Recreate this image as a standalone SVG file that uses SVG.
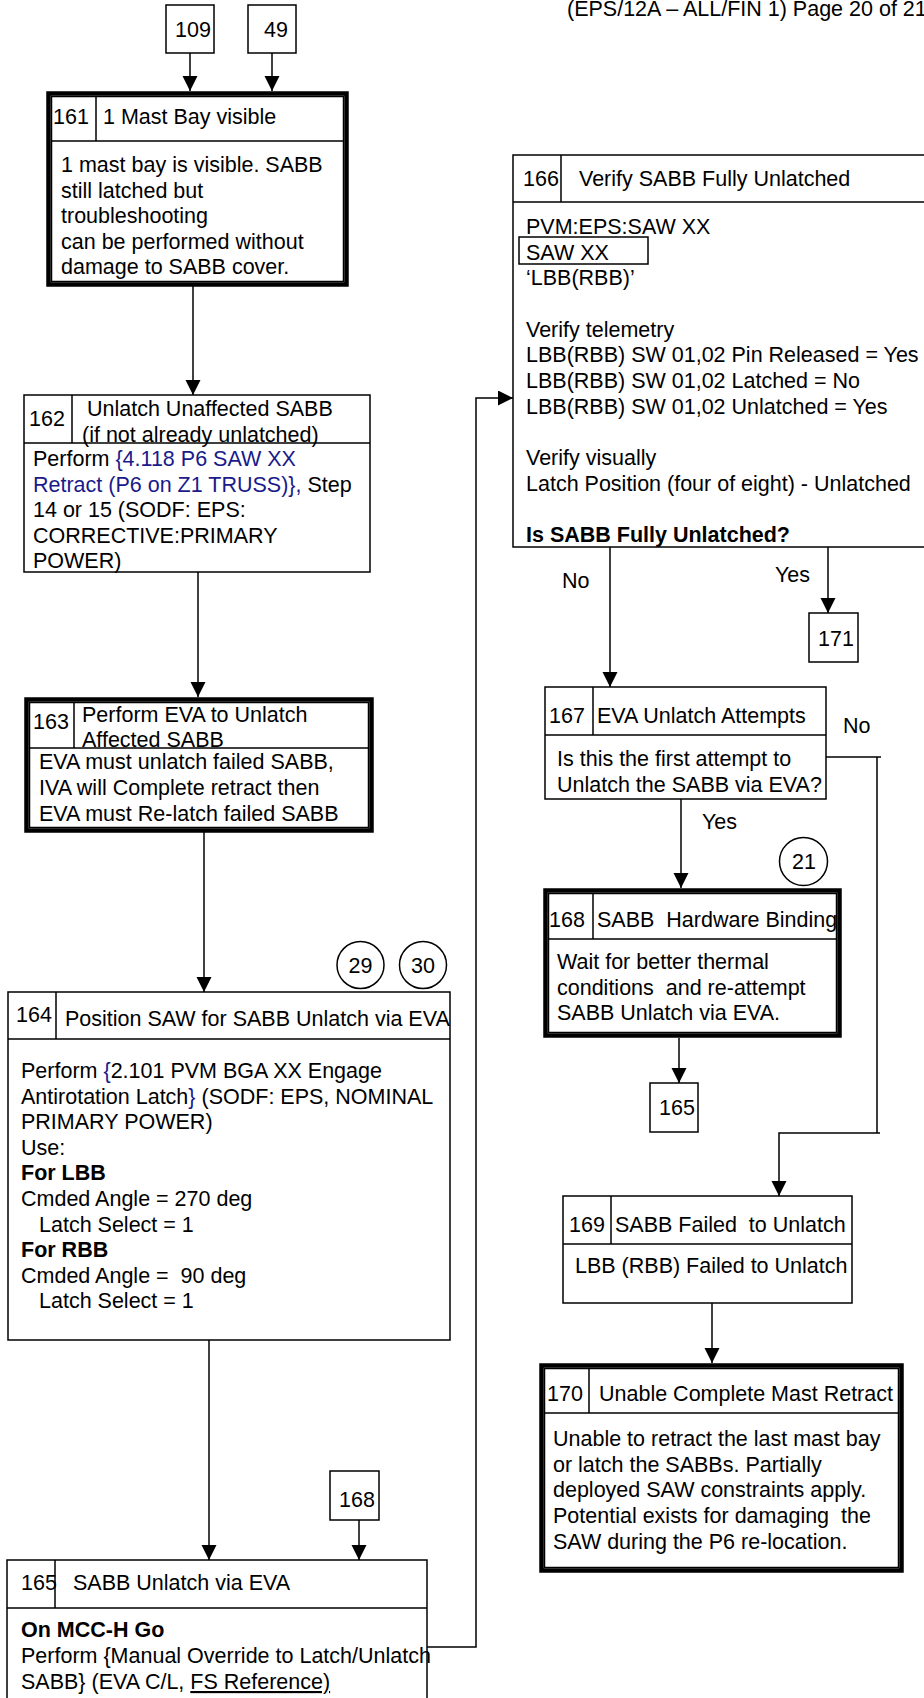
<svg xmlns="http://www.w3.org/2000/svg" width="924" height="1698" viewBox="0 0 924 1698">
<style>
.box{fill:#fff;stroke:#000;stroke-width:1.5}
.ln{fill:none;stroke:#000;stroke-width:1.5}
.thick{fill:none;stroke:#000;stroke-width:4.5}
.t{font-family:"Liberation Sans",Arial,sans-serif;font-size:21.5px;fill:#000}
.b{font-weight:bold}
.bl{fill:#1a1a8a}
.c{text-anchor:middle}
.u{text-decoration:underline}
</style>
<defs>
<marker id="ah" markerUnits="userSpaceOnUse" markerWidth="16" markerHeight="16" refX="15" refY="7.5" orient="auto">
<path d="M0,0 L15,7.5 L0,15 Z" fill="#000"/>
</marker>
</defs>
<rect width="924" height="1698" fill="#fff"/>
<text class="t" x="567" y="16">(EPS/12A – ALL/FIN 1) Page 20 of 21</text>

<g id="connectors">
<path class="ln" d="M190,53 V91" marker-end="url(#ah)"/>
<path class="ln" d="M272,53 V91" marker-end="url(#ah)"/>
<path class="ln" d="M193,286 V395" marker-end="url(#ah)"/>
<path class="ln" d="M198,572 V697" marker-end="url(#ah)"/>
<path class="ln" d="M204,832 V992" marker-end="url(#ah)"/>
<path class="ln" d="M209,1340 V1560" marker-end="url(#ah)"/>
<path class="ln" d="M359,1520 V1560" marker-end="url(#ah)"/>
<path class="ln" d="M427,1647 H476 V398 H513" marker-end="url(#ah)"/>
<path class="ln" d="M610,547 V687" marker-end="url(#ah)"/>
<path class="ln" d="M828,547 V613" marker-end="url(#ah)"/>
<path class="ln" d="M681,799 V888" marker-end="url(#ah)"/>
<path class="ln" d="M826,757 H881 M877,757 V1133 M880,1133 H779 V1196" marker-end="url(#ah)"/>
<path class="ln" d="M679,1038 V1083" marker-end="url(#ah)"/>
<path class="ln" d="M712,1303 V1363" marker-end="url(#ah)"/>
<text class="t" x="562" y="588">No</text>
<text class="t" x="775" y="582">Yes</text>
<text class="t" x="843" y="733">No</text>
<text class="t" x="702" y="829">Yes</text>
</g>

<g id="n109">
<rect class="box" x="166" y="5" width="48" height="48"/>
<text class="t" x="175" y="37">109</text>
</g>
<g id="n49">
<rect class="box" x="248" y="5" width="48" height="48"/>
<text class="t" x="264" y="37">49</text>
</g>

<g id="n161">
<rect class="box" x="51.5" y="96.5" width="292" height="185"/>
<rect class="thick" x="48.5" y="93.5" width="298" height="191"/>
<path class="ln" d="M51.5,141 H343.5 M96,96.5 V141"/>
<text class="t" x="53" y="124">161</text>
<text class="t" x="103" y="124">1 Mast Bay visible</text>
<text class="t" x="61" y="172">1 mast bay is visible. SABB</text>
<text class="t" x="61" y="197.5">still latched but</text>
<text class="t" x="61" y="223">troubleshooting</text>
<text class="t" x="61" y="248.5">can be performed without</text>
<text class="t" x="61" y="274">damage to SABB cover.</text>
</g>

<g id="n162">
<rect class="box" x="24" y="395" width="346" height="177"/>
<text class="t" x="29" y="426">162</text>
<text class="t" x="87" y="416">Unlatch Unaffected SABB</text>
<text class="t" x="82" y="442">(if not already unlatched)</text>
<path class="ln" d="M24,443 H370 M72,395 V443"/>
<text class="t" x="33" y="466">Perform <tspan class="bl">{4.118 P6 SAW XX</tspan></text>
<text class="t" x="33" y="491.5"><tspan class="bl">Retract (P6 on Z1 TRUSS)},</tspan> Step</text>
<text class="t" x="33" y="517">14 or 15 (SODF: EPS:</text>
<text class="t" x="33" y="542.5">CORRECTIVE:PRIMARY</text>
<text class="t" x="33" y="568">POWER)</text>
</g>

<g id="n163">
<rect class="box" x="29.5" y="702.5" width="339" height="125"/>
<rect class="thick" x="26.5" y="699.5" width="345" height="131"/>
<text class="t" x="33" y="729">163</text>
<text class="t" x="82" y="722">Perform EVA to Unlatch</text>
<text class="t" x="82" y="747">Affected SABB</text>
<path class="ln" d="M29.5,748 H368.5 M74,702.5 V748"/>
<text class="t" x="39" y="769">EVA must unlatch failed SABB,</text>
<text class="t" x="39" y="795">IVA will Complete retract then</text>
<text class="t" x="39" y="821">EVA must Re-latch failed SABB</text>
</g>

<g id="c29">
<circle class="box" cx="360.5" cy="965" r="23.5"/>
<text class="t c" x="360.5" y="972.5">29</text>
</g>
<g id="c30">
<circle class="box" cx="423" cy="965" r="23.5"/>
<text class="t c" x="423" y="972.5">30</text>
</g>

<g id="n164">
<rect class="box" x="8" y="992" width="442" height="348"/>
<path class="ln" d="M8,1039 H450 M56,992 V1039"/>
<text class="t" x="16" y="1022">164</text>
<text class="t" x="65" y="1026">Position SAW for SABB Unlatch via EVA</text>
<text class="t" x="21" y="1078">Perform <tspan class="bl">{</tspan>2.101 PVM BGA XX Engage</text>
<text class="t" x="21" y="1103.6">Antirotation Latch<tspan class="bl">}</tspan> (SODF: EPS, NOMINAL</text>
<text class="t" x="21" y="1129.2">PRIMARY POWER)</text>
<text class="t" x="21" y="1154.8">Use:</text>
<text class="t b" x="21" y="1180.4">For LBB</text>
<text class="t" x="21" y="1206">Cmded Angle = 270 deg</text>
<text class="t" x="39" y="1231.6">Latch Select = 1</text>
<text class="t b" x="21" y="1257.2">For RBB</text>
<text class="t" x="21" y="1282.8" xml:space="preserve">Cmded Angle =  90 deg</text>
<text class="t" x="39" y="1308.4">Latch Select = 1</text>
</g>

<g id="n168ref">
<rect class="box" x="330" y="1471" width="49" height="49"/>
<text class="t" x="339" y="1507">168</text>
</g>

<g id="n165">
<rect class="box" x="7" y="1560" width="420" height="160"/>
<path class="ln" d="M7,1608 H427 M55,1560 V1608"/>
<text class="t" x="21" y="1590">165</text>
<text class="t" x="73" y="1590">SABB Unlatch via EVA</text>
<text class="t b" x="21" y="1637">On MCC-H Go</text>
<text class="t" x="21" y="1663">Perform {Manual Override to Latch/Unlatch</text>
<text class="t" x="21" y="1689">SABB} (EVA C/L, <tspan class="u">FS Reference)</tspan></text>
</g>

<g id="n166">
<rect class="box" x="513" y="155" width="430" height="392"/>
<path class="ln" d="M513,202 H943 M561,155 V202"/>
<text class="t" x="523" y="186">166</text>
<text class="t" x="579" y="186">Verify SABB Fully Unlatched</text>
<text class="t" x="526" y="234">PVM:EPS:SAW XX</text>
<rect class="ln" x="519" y="237" width="129" height="27"/>
<text class="t" x="526" y="259.6">SAW XX</text>
<text class="t" x="526" y="285.3">‘LBB(RBB)’</text>
<text class="t" x="526" y="336.6">Verify telemetry</text>
<text class="t" x="526" y="362.3">LBB(RBB) SW 01,02 Pin Released = Yes</text>
<text class="t" x="526" y="387.9">LBB(RBB) SW 01,02 Latched = No</text>
<text class="t" x="526" y="413.6">LBB(RBB) SW 01,02 Unlatched = Yes</text>
<text class="t" x="526" y="464.9">Verify visually</text>
<text class="t" x="526" y="490.6">Latch Position (four of eight) - Unlatched</text>
<text class="t b" x="526" y="541.9">Is SABB Fully Unlatched?</text>
</g>

<g id="n171">
<rect class="box" x="809" y="613" width="49" height="49"/>
<text class="t" x="818" y="646">171</text>
</g>

<g id="n167">
<rect class="box" x="545" y="687" width="281" height="112"/>
<path class="ln" d="M545,735 H826 M593,687 V735"/>
<text class="t" x="549" y="723">167</text>
<text class="t" x="597" y="723">EVA Unlatch Attempts</text>
<text class="t" x="557" y="766">Is this the first attempt to</text>
<text class="t" x="557" y="791.5">Unlatch the SABB via EVA?</text>
</g>

<g id="c21">
<circle class="box" cx="803.5" cy="861.5" r="24"/>
<text class="t c" x="804" y="868.5">21</text>
</g>

<g id="n168">
<rect class="box" x="548.5" y="893.5" width="288" height="139"/>
<rect class="thick" x="545.5" y="890.5" width="294" height="145"/>
<path class="ln" d="M548.5,939 H836.5 M593,893.5 V939"/>
<text class="t" x="549" y="927">168</text>
<text class="t" x="597" y="927" xml:space="preserve">SABB  Hardware Binding</text>
<text class="t" x="557" y="969">Wait for better thermal</text>
<text class="t" x="557" y="994.5" xml:space="preserve">conditions  and re-attempt</text>
<text class="t" x="557" y="1020">SABB Unlatch via EVA.</text>
</g>

<g id="n165ref">
<rect class="box" x="650" y="1083" width="48" height="49"/>
<text class="t" x="659" y="1115">165</text>
</g>

<g id="n169">
<rect class="box" x="563" y="1196" width="289" height="107"/>
<path class="ln" d="M563,1244 H852 M611,1196 V1244"/>
<text class="t" x="569" y="1232">169</text>
<text class="t" x="615" y="1232" xml:space="preserve">SABB Failed  to Unlatch</text>
<text class="t" x="575" y="1273">LBB (RBB) Failed to Unlatch</text>
</g>

<g id="n170">
<rect class="box" x="544.5" y="1368.5" width="354" height="199"/>
<rect class="thick" x="541.5" y="1365.5" width="360" height="205"/>
<path class="ln" d="M544.5,1413 H898.5 M589,1368.5 V1413"/>
<text class="t" x="547" y="1401">170</text>
<text class="t" x="599" y="1401">Unable Complete Mast Retract</text>
<text class="t" x="553" y="1446">Unable to retract the last mast bay</text>
<text class="t" x="553" y="1472">or latch the SABBs. Partially</text>
<text class="t" x="553" y="1497">deployed SAW constraints apply.</text>
<text class="t" x="553" y="1523" xml:space="preserve">Potential exists for damaging  the</text>
<text class="t" x="553" y="1549">SAW during the P6 re-location.</text>
</g>
</svg>
